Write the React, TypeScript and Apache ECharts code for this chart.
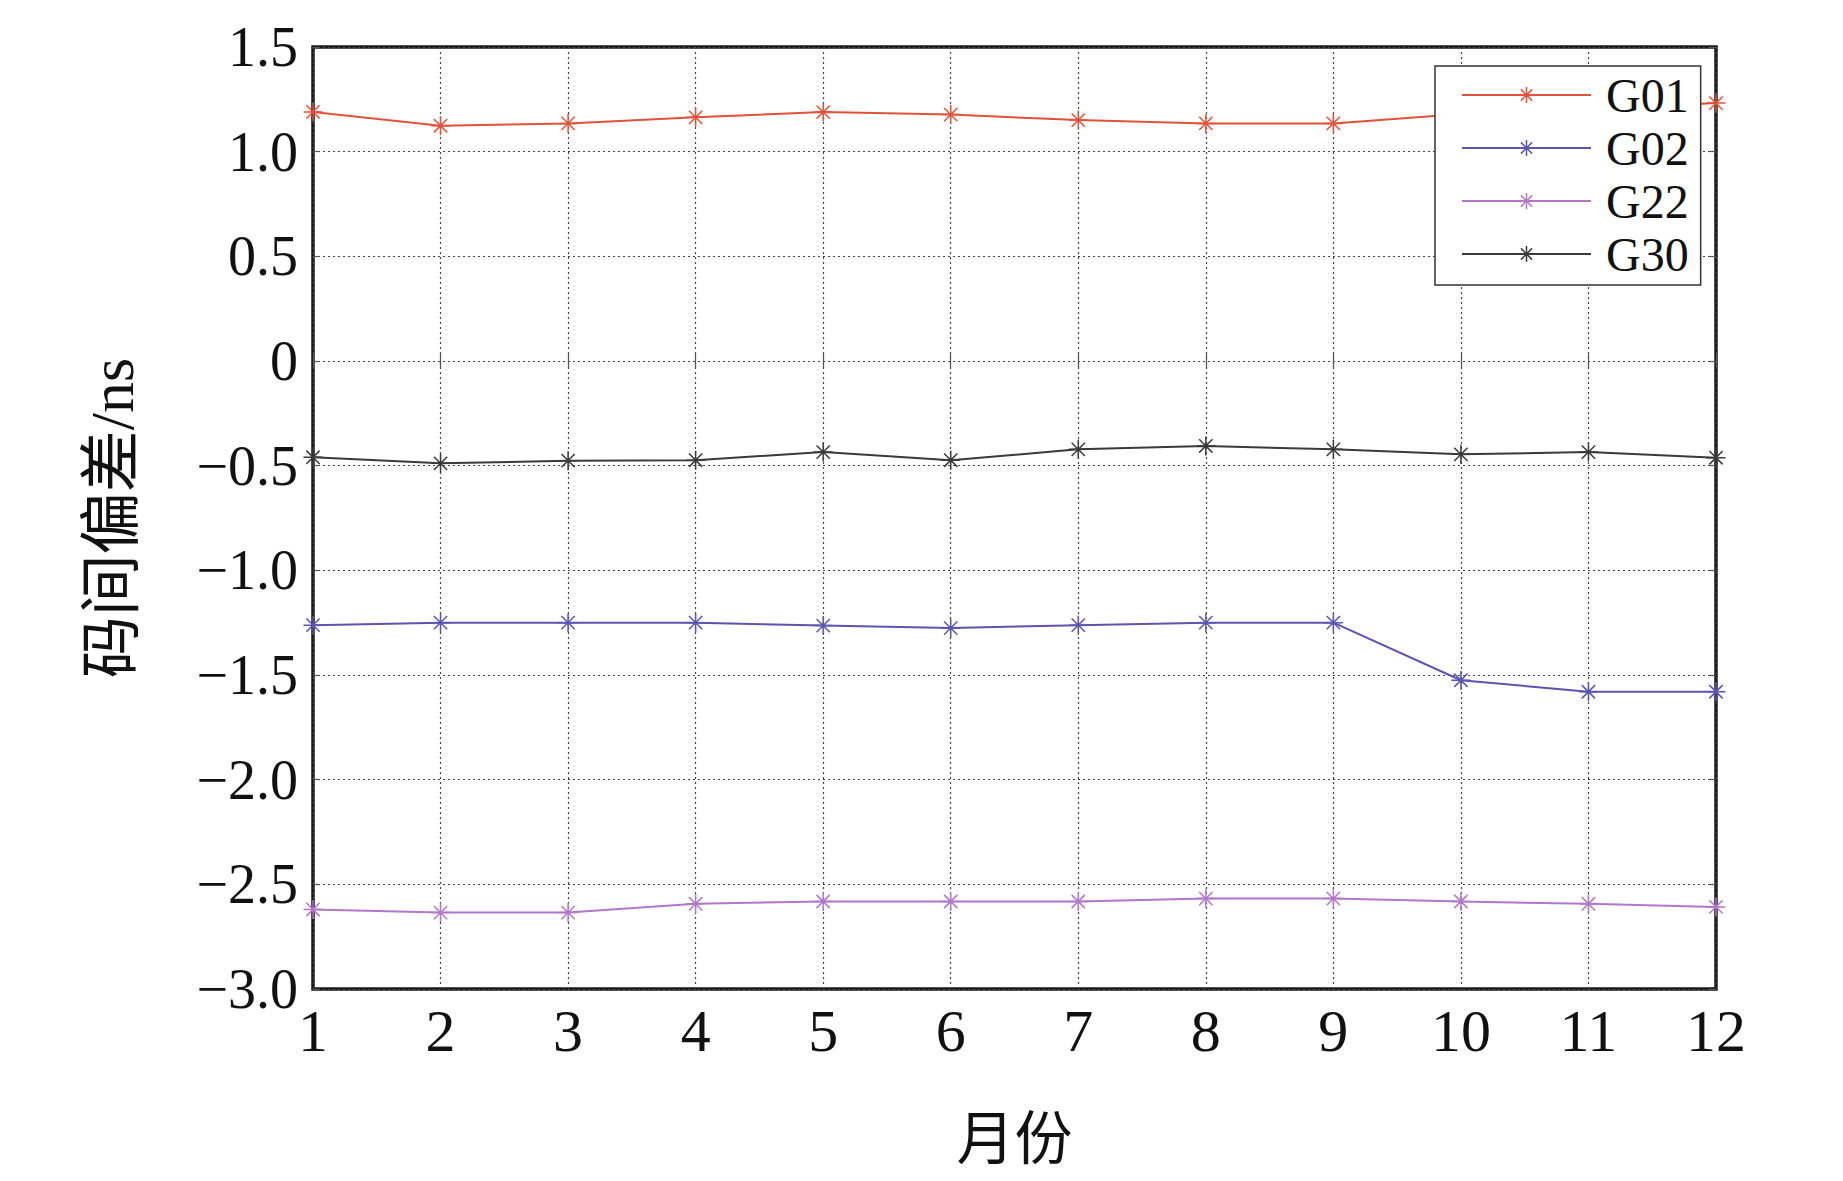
import React, { useEffect, useRef } from "react";
import * as echarts from "echarts";

const months = [1, 2, 3, 4, 5, 6, 7, 8, 9, 10, 11, 12];
const seriesNames = ["G01", "G02", "G22", "G30"];
const g01 = [1.19, 1.124, 1.135, 1.164, 1.189, 1.177, 1.151, 1.135, 1.135, 1.18, 1.2, 1.232];
const g02 = [-1.262, -1.25, -1.25, -1.25, -1.264, -1.276, -1.262, -1.25, -1.25, -1.525, -1.58, -1.58];
const g22 = [-2.62, -2.635, -2.635, -2.593, -2.582, -2.582, -2.582, -2.568, -2.568, -2.582, -2.593, -2.608];
const g30 = [-0.46, -0.489, -0.476, -0.474, -0.435, -0.474, -0.422, -0.406, -0.422, -0.446, -0.435, -0.462];
const colors = ["#e0533a", "#5b55b0", "#b377c9", "#3a3a3a"];
const yTicks = { min: -3, max: 1.5, interval: 0.5 };

const ASTERISK = "path://M10 0 L10 20 M0 10 L20 10 M3 3 L17 17 M3 17 L17 3";

export default function App() {
  const ref = useRef<HTMLDivElement>(null);
  useEffect(() => {
    if (!ref.current) return;
    const chart = echarts.init(ref.current, undefined, { renderer: "svg" });
    const allData = [g01, g02, g22, g30];
    const serif = "Liberation Serif";
    const mixed = "'Liberation Serif', 'Noto Sans CJK SC'";
    const fmtY = (v: number) => {
      if (Math.abs(v) < 1e-9) return "0";
      return v < 0 ? "\u2212" + Math.abs(v).toFixed(1) : v.toFixed(1);
    };
    chart.setOption({
      animation: false,
      backgroundColor: "#ffffff",
      grid: {
        left: 313,
        right: 127,
        top: 47,
        bottom: 192,
        show: true,
        borderColor: "#1a1a1a",
        borderWidth: 3.5,
      },
      legend: {
        data: seriesNames,
        orient: "vertical",
        left: 1435,
        top: 66,
        padding: [5, 12, 7, 26],
        backgroundColor: "#ffffff",
        borderColor: "#333333",
        borderWidth: 1.5,
        itemWidth: 129,
        itemHeight: 20,
        itemGap: 5,
        itemStyle: { borderWidth: 1.5 },
        textStyle: {
          fontFamily: serif,
          fontSize: 48,
          lineHeight: 48,
          color: "#111",
          padding: [0, 0, 0, 10],
        },
      },
      xAxis: [
        {
          type: "value",
          min: 1,
          max: 12,
          interval: 1,
          name: "月份",
          nameLocation: "middle",
          nameGap: 121,
          nameTextStyle: { fontFamily: mixed, fontSize: 58, color: "#111" },
          axisLine: { show: false },
          axisTick: { show: true, inside: true, length: 7, lineStyle: { color: "#555", width: 1.2 } },
          axisLabel: { fontFamily: serif, fontSize: 60, color: "#111", margin: 12 },
          splitLine: { show: true, lineStyle: { type: [2, 3], color: "#444", width: 1.2 } },
        },
        {
          type: "value",
          position: "top",
          min: 1,
          max: 12,
          interval: 1,
          axisLine: { show: false },
          axisTick: { show: true, inside: true, length: 7, lineStyle: { color: "#555", width: 1.2 } },
          axisLabel: { show: false },
          splitLine: { show: false },
        },
      ],
      yAxis: [
        {
          type: "value",
          min: yTicks.min,
          max: yTicks.max,
          interval: yTicks.interval,
          name: "码间偏差/ns",
          nameLocation: "middle",
          nameRotate: 90,
          nameGap: 170,
          nameTextStyle: { fontFamily: mixed, fontSize: 62, color: "#111" },
          axisLine: { show: false },
          axisTick: { show: true, inside: true, length: 7, lineStyle: { color: "#555", width: 1.2 } },
          axisLabel: { fontFamily: serif, fontSize: 56, color: "#111", margin: 15, formatter: fmtY },
          splitLine: { show: true, lineStyle: { type: [2, 3], color: "#444", width: 1.2 } },
        },
        {
          type: "value",
          position: "right",
          min: yTicks.min,
          max: yTicks.max,
          interval: yTicks.interval,
          axisLine: { show: false },
          axisTick: { show: true, inside: true, length: 7, lineStyle: { color: "#555", width: 1.2 } },
          axisLabel: { show: false },
          splitLine: { show: false },
        },
      ],
      series: seriesNames.map((name, i) => ({
        name,
        type: "line",
        xAxisIndex: 0,
        yAxisIndex: 0,
        data: months.map((m, j) => [m, allData[i][j]]),
        symbol: ASTERISK,
        symbolSize: 19,
        showSymbol: true,
        color: colors[i],
        lineStyle: { color: colors[i], width: 2 },
        itemStyle: { color: colors[i], borderColor: colors[i], borderWidth: 1.5 },
        emphasis: { disabled: true },
        z: 3,
      })),
    });
    return () => chart.dispose();
  }, []);
  return (
    <div
      ref={ref}
      style={{ position: "absolute", left: 0, top: 0, width: 1843, height: 1181, background: "#fff" }}
    />
  );
}
